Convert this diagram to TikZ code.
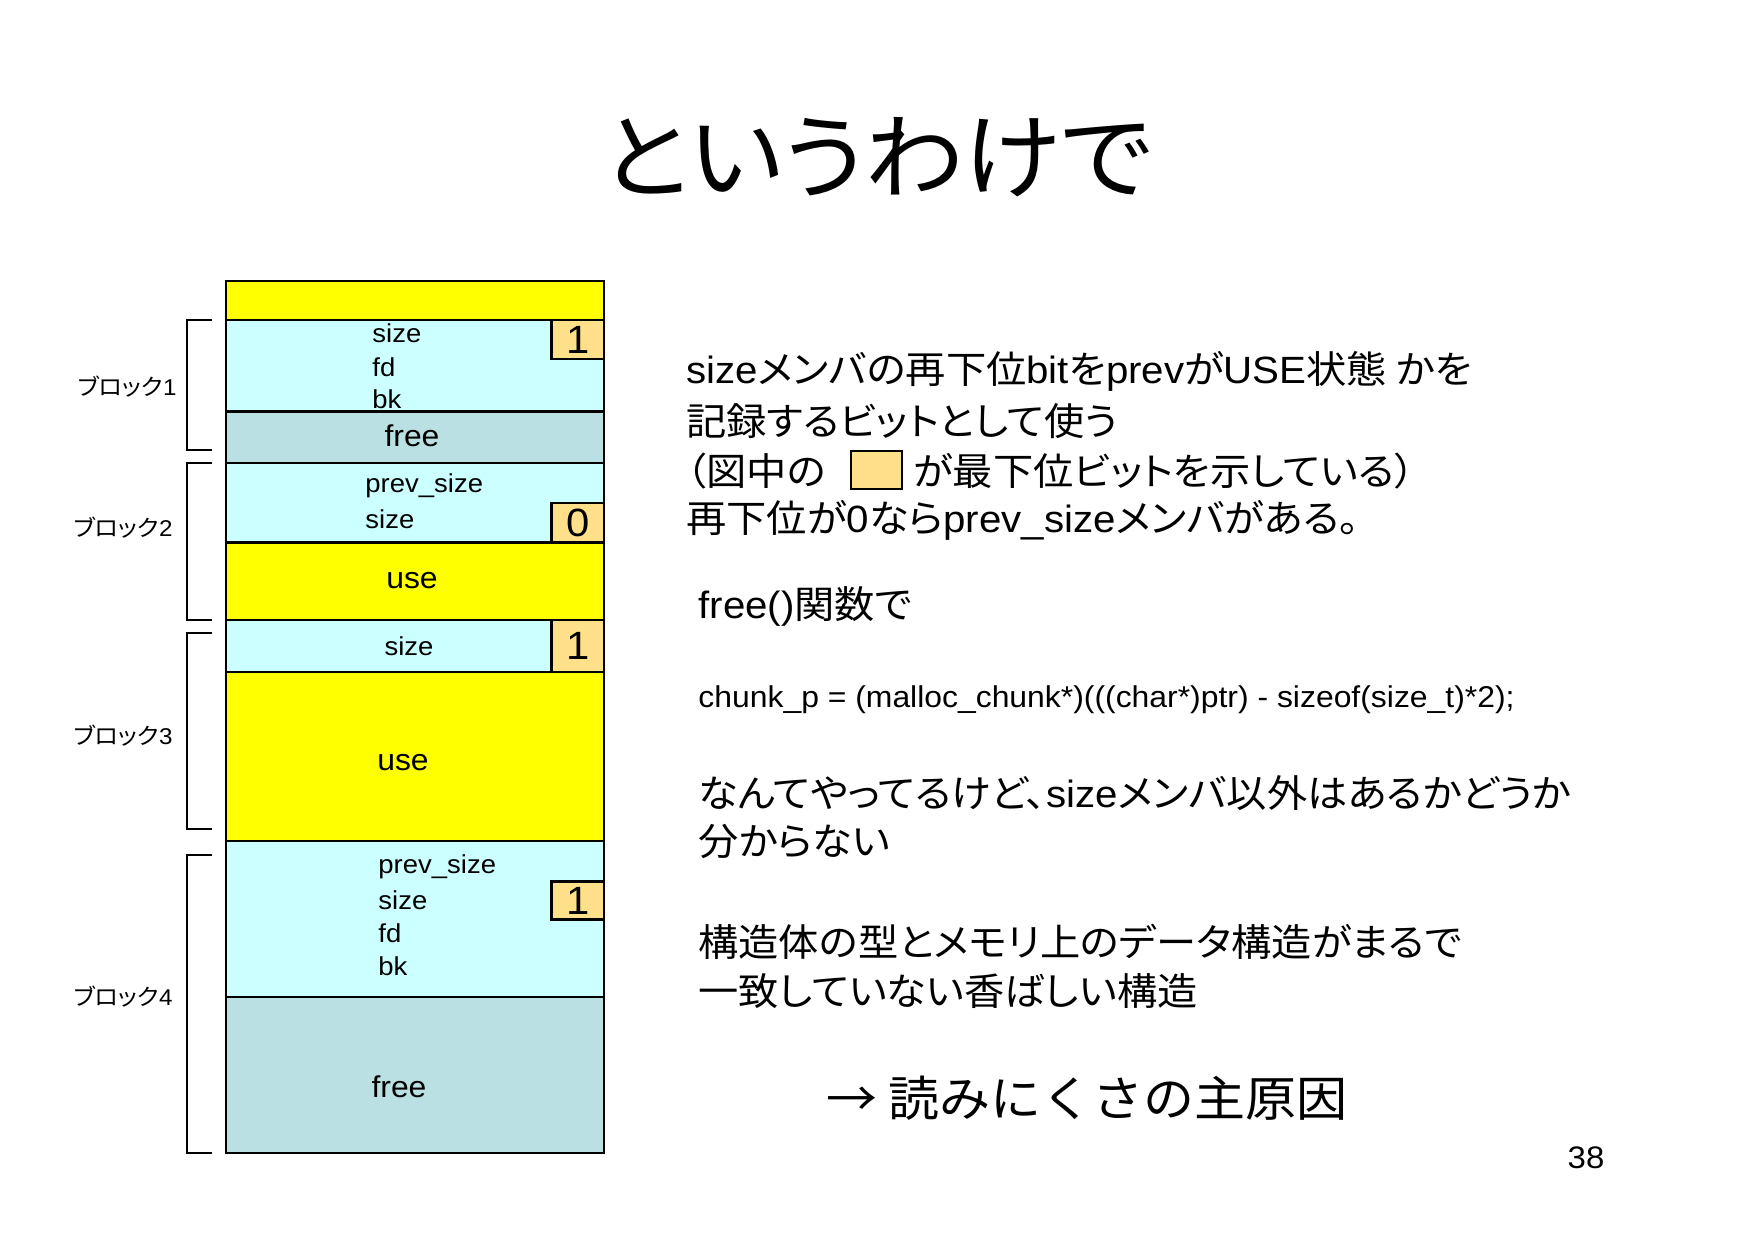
\documentclass[tikz,border=0pt]{standalone}
\usepackage{fontspec}
\setmainfont[FakeStretch=1.06]{Liberation Sans}
\newfontfamily\jp[FakeStretch=1.06]{Noto Sans CJK JP}
\newfontfamily\jpp[FakeStretch=1.06,RawFeature=+palt]{Noto Sans CJK JP}
\newcommand\fsz[1]{\fontsize{#1}{#1}\selectfont}
\definecolor{memyellow}{HTML}{FFFF00}
\definecolor{memcyan}{HTML}{CCFFFF}
\definecolor{memfree}{HTML}{BBE0E3}
\definecolor{membit}{HTML}{FFE08A}
\begin{document}
\begin{tikzpicture}[x=0.0169327cm,y=-0.0169327cm,
  cellline/.style={draw=black,line width=1pt},
  bitbox/.style={fill=membit,draw=black,line width=1pt},
  field/.style={anchor=west,inner sep=0pt,font=\fsz{12.5}},
  big/.style={inner sep=0pt,font=\fsz{14.5}},
  bitnum/.style={inner sep=0pt,font=\fsz{19}},
  blk/.style={anchor=east,inner sep=0pt,font=\jpp\fsz{11}},
  brk/.style={draw=black,line width=0.7pt},
  body/.style={anchor=west,inner sep=0pt,font=\fsz{18.3}}]
\useasboundingbox (0,0) rectangle (1754,1240);
% title
\node[inner sep=0pt,font=\jpp\fsz{45}] (title) at (877,157) {というわけで};
% memory column fills
\fill[memyellow] (226,281) rectangle (604,320);
\fill[memcyan] (226,320) rectangle (604,411.5);
\fill[memfree] (226,411.5) rectangle (604,463);
\fill[memcyan] (226,463) rectangle (604,542.5);
\fill[memyellow] (226,542.5) rectangle (604,620);
\fill[memcyan] (226,620) rectangle (604,672);
\fill[memyellow] (226,672) rectangle (604,841);
\fill[memcyan] (226,841) rectangle (604,997);
\fill[memfree] (226,997) rectangle (604,1153);
% bit boxes
\draw[bitbox] (551.5,320) rectangle (604,359);
\draw[bitbox] (551.5,503) rectangle (604,542.5);
\draw[bitbox] (551.5,620) rectangle (604,672);
\draw[bitbox] (551.5,881.5) rectangle (604,919.5);
% borders
\draw[cellline] (226,281) rectangle (604,1153);
\foreach \yy in {320,411.5,463,542.5,620,672,841,997}
  \draw[cellline] (226,\yy) -- (604,\yy);
% bit numbers
\node[bitnum] (b1) at (577.75,339.5) {1};
\node[bitnum] (b2) at (577.75,522.75) {0};
\node[bitnum] (b3) at (577.75,646) {1};
\node[bitnum] (b4) at (577.75,900.5) {1};
% block 1 texts
\node[field] (s1) at (372,333) {size};
\node[field] (f1) at (372,367) {fd};
\node[field] (k1) at (372,399) {bk};
\node[big] (fr1) at (412,436) {free};
% block 2
\node[field] (p2) at (365,485.5) {prev\_size};
\node[field] (s2) at (365,519) {size};
\node[big] (u2) at (412,580.5) {use};
% block 3
\node[inner sep=0pt,font=\fsz{12.5}] (s3) at (409,646.5) {size};
\node[big] (u3) at (403,763) {use};
% block 4
\node[field] (p4) at (378,867) {prev\_size};
\node[field] (s4) at (378,900.5) {size};
\node[field] (f4) at (378,933) {fd};
\node[field] (k4) at (378,966.5) {bk};
\node[big] (fr4) at (399,1087) {free};
% brackets
\draw[brk] (212,320) -- (187,320) -- (187,450) -- (212,450);
\draw[brk] (212,463) -- (187,463) -- (187,620) -- (212,620);
\draw[brk] (212,633) -- (187,633) -- (187,829) -- (212,829);
\draw[brk] (212,855) -- (187,855) -- (187,1153) -- (212,1153);
\node[blk] (l1) at (177,387) {ブロック\fontspec{Liberation Sans}[FakeStretch=1.06]1};
\node[blk] (l2) at (173,528) {ブロック\fontspec{Liberation Sans}[FakeStretch=1.06]2};
\node[blk] (l3) at (173,736) {ブロック\fontspec{Liberation Sans}[FakeStretch=1.06]3};
\node[blk] (l4) at (173,997) {ブロック\fontspec{Liberation Sans}[FakeStretch=1.06]4};
% right side text
\node[body] (t1) at (686,371) {size{\jpp メンバの再下位}bit{\jpp を}prev{\jpp が}USE{\jpp 状態 かを}};
\node[body] (t2) at (686,421) {{\jpp 記録するビットとして使う}};
\node[body] (t3a) at (686,471) {{\jpp （図中の}};
\draw[bitbox,line width=0.8pt] (851,451) rectangle (902,489);
\node[body] (t3b) at (913,471) {{\jpp が最下位ビットを示している）}};
\node[body] (t4) at (686,520) {{\jpp 再下位が}0{\jpp なら}prev\_size{\jpp メンバがある。}};
\node[body] (t5) at (698,606) {free(){\jpp 関数で}};
\node[anchor=west,inner sep=0pt,font=\fsz{14.5}] (code) at (698,700) {chunk\_p = (malloc\_chunk*)(((char*)ptr) - sizeof(size\_t)*2);};
\node[body] (t6) at (698,793) {{\jpp なんてやってるけど、}size{\jpp メンバ以外はあるかどうか}};
\node[body] (t7) at (698,841) {{\jpp 分からない}};
\node[body] (t8) at (698,942) {{\jpp 構造体の型とメモリ上のデータ構造がまるで}};
\node[body] (t9) at (698,991) {{\jpp 一致していない香ばしい構造}};
\node[anchor=west,inner sep=0pt,font=\jp\fsz{23.2}] (t10) at (826,1098) {→ 読みにくさの主原因};
\node[inner sep=0pt,font=\fsz{15}] (pg) at (1586,1158) {38};
\end{tikzpicture}
\end{document}
